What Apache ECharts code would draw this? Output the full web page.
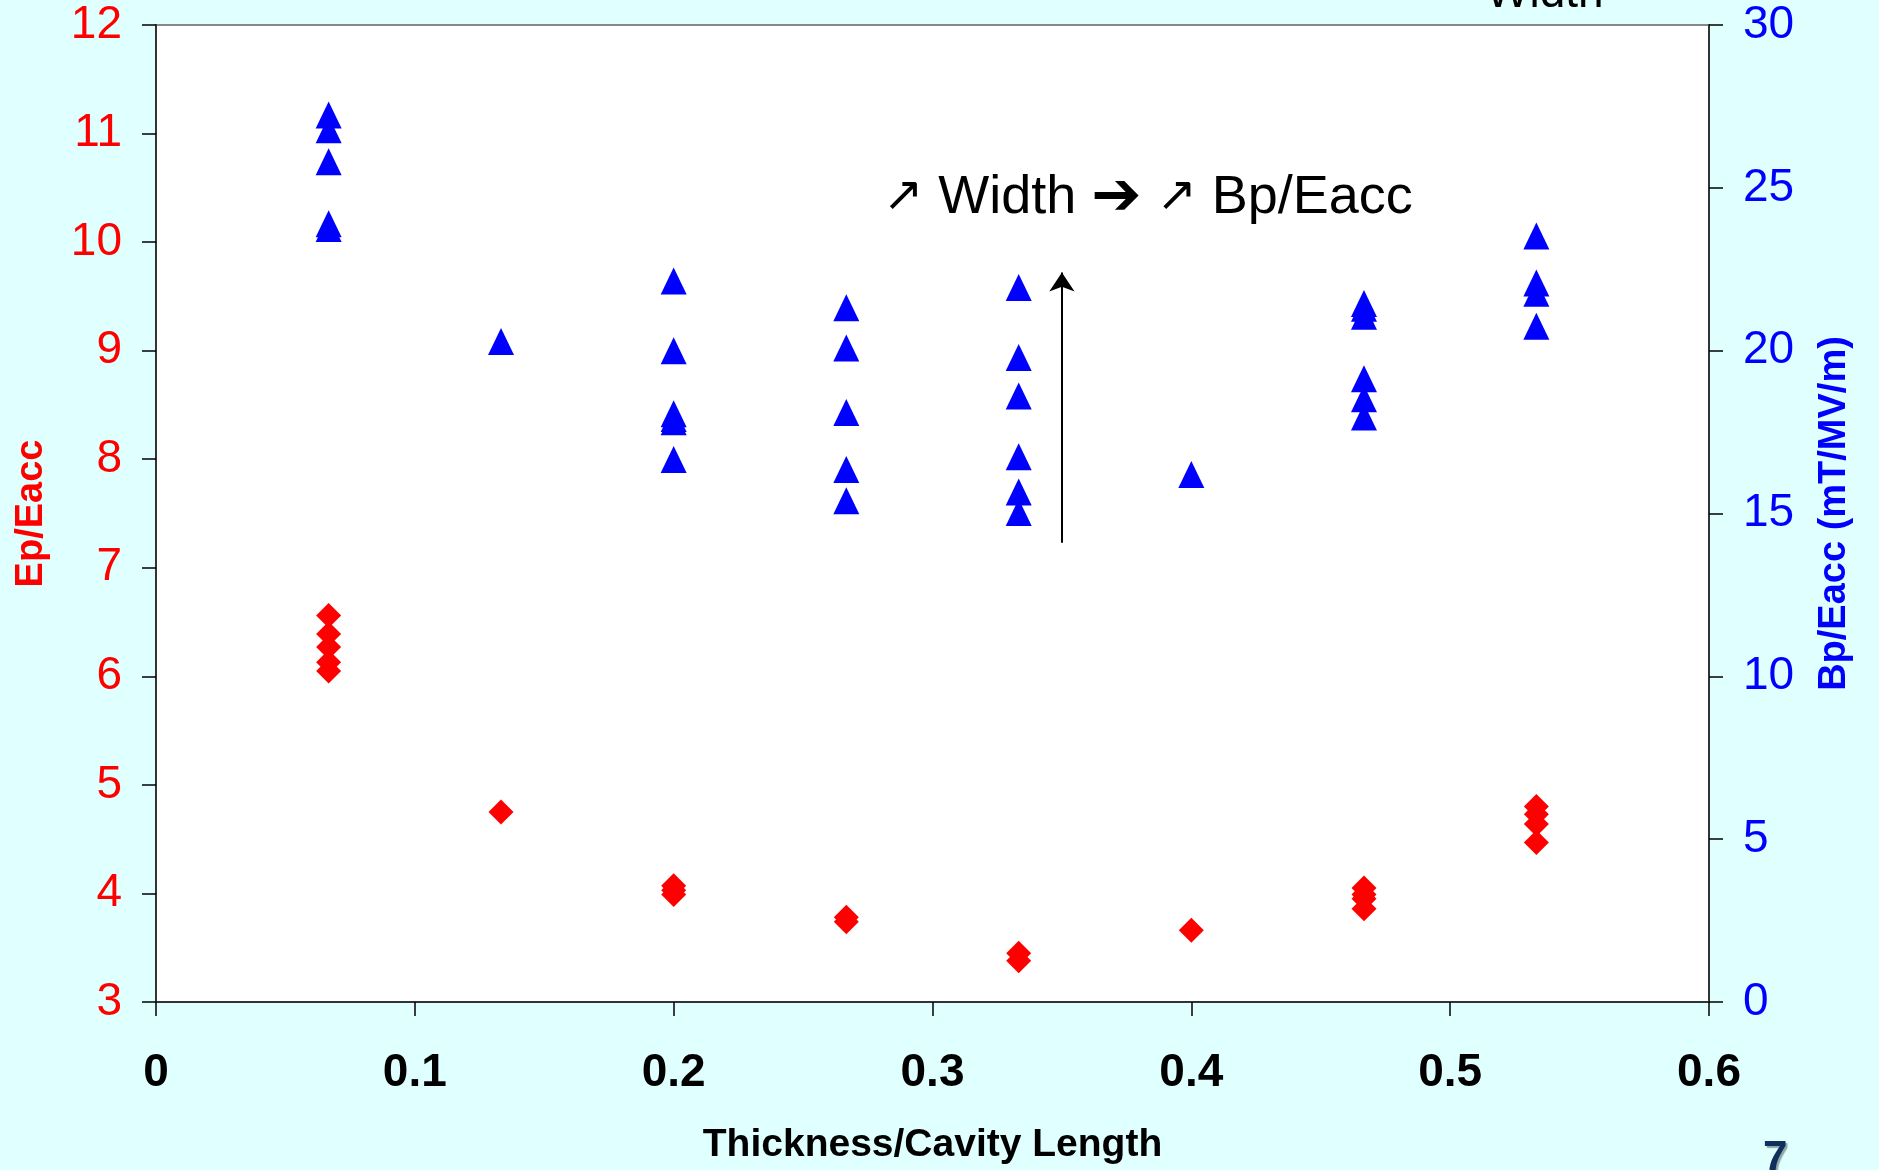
<!DOCTYPE html>
<html>
<head>
<meta charset="utf-8">
<script src="https://cdn.jsdelivr.net/npm/echarts@6/dist/echarts.min.js"></script>
<style>
html,body{margin:0;padding:0;background:#E0FFFF;}
#chart{width:1879px;height:1170px;}
</style>
</head>
<body>
<div id="chart"></div>
<script>
// x = Thickness/Cavity Length
var xTicks = [0, 0.1, 0.2, 0.3, 0.4, 0.5, 0.6];
var leftTicks = [3, 4, 5, 6, 7, 8, 9, 10, 11, 12];
var rightTicks = [0, 5, 10, 15, 20, 25, 30];

// Ep/Eacc (left axis, red diamonds)
var epX = [0.0667, 0.0667, 0.0667, 0.0667, 0.0667,
           0.1333,
           0.2, 0.2, 0.2,
           0.2667, 0.2667,
           0.3333, 0.3333,
           0.4,
           0.4667, 0.4667, 0.4667, 0.4667,
           0.5333, 0.5333, 0.5333, 0.5333];
var epY = [6.56, 6.39, 6.27, 6.13, 6.05,
           4.75,
           4.07, 4.03, 3.99,
           3.78, 3.74,
           3.45, 3.38,
           3.66,
           4.05, 3.99, 3.95, 3.86,
           4.80, 4.73, 4.64, 4.47];

// Bp/Eacc (right axis, blue triangles)
var bpX = [0.0667, 0.0667, 0.0667, 0.0667, 0.0667,
           0.1333,
           0.2, 0.2, 0.2, 0.2, 0.2, 0.2,
           0.2667, 0.2667, 0.2667, 0.2667, 0.2667,
           0.3333, 0.3333, 0.3333, 0.3333, 0.3333, 0.3333,
           0.4,
           0.4667, 0.4667, 0.4667, 0.4667, 0.4667, 0.4667,
           0.5333, 0.5333, 0.5333, 0.5333];
var bpY = [27.24, 26.78, 25.80, 23.90, 23.75,
           20.28,
           22.14, 20.00, 18.06, 17.92, 17.82, 16.66,
           21.32, 20.08, 18.10, 16.35, 15.39,
           21.94, 19.79, 18.61, 16.74, 15.66, 15.03,
           16.20,
           21.45, 21.30, 21.06, 19.14, 18.52, 17.96,
           23.52, 22.08, 21.76, 20.75];

// annotation arrow (x, from, to on right axis)
var arrowX = 0.35, arrowFrom = 14.1, arrowTo = 22.4;

var annotationText = '{a|\u2197} Width {b|\u2794} {a|\u2197} Bp/Eacc';
var topText = 'Width';
var pageNumber = '7';

var FONT = "'Liberation Sans', Arial, sans-serif";

function pairs(xs, ys) { return xs.map(function (x, i) { return [x, ys[i]]; }); }

var chart = echarts.init(document.getElementById('chart'));
chart.setOption({
  backgroundColor: '#E0FFFF',
  animation: false,
  grid: {
    left: 156, right: 170, top: 25, bottom: 168,
    show: true, backgroundColor: '#ffffff', borderColor: '#888888', borderWidth: 2
  },
  xAxis: {
    type: 'value', min: xTicks[0], max: xTicks[xTicks.length - 1], interval: 0.1,
    name: 'Thickness/Cavity Length', nameLocation: 'middle', nameGap: 124,
    nameTextStyle: { fontFamily: FONT, fontWeight: 'bold', fontSize: 39, color: '#000' },
    axisLine: { lineStyle: { color: '#333', width: 2 } },
    axisTick: { show: true, length: 14, lineStyle: { color: '#000', width: 1.5 } },
    axisLabel: { fontFamily: FONT, fontWeight: 'bold', fontSize: 46, color: '#000', margin: 48 },
    splitLine: { show: false }
  },
  yAxis: [{
    type: 'value', position: 'left', min: leftTicks[0], max: leftTicks[leftTicks.length - 1], interval: 1,
    name: 'Ep/Eacc', nameLocation: 'middle', nameGap: 105, nameRotate: 90,
    nameTextStyle: { fontFamily: FONT, fontWeight: 'bold', fontSize: 38, color: '#ff0000' },
    axisLine: { show: true, lineStyle: { color: '#333', width: 2 } },
    axisTick: { show: true, length: 14, lineStyle: { color: '#000', width: 1.5 } },
    axisLabel: { fontFamily: FONT, fontSize: 46, color: '#ff0000', margin: 34 },
    splitLine: { show: false }
  }, {
    type: 'value', position: 'right', min: rightTicks[0], max: rightTicks[rightTicks.length - 1], interval: 5,
    name: 'Bp/Eacc (mT/MV/m)', nameLocation: 'middle', nameGap: 107, nameRotate: 90,
    nameTextStyle: { fontFamily: FONT, fontWeight: 'bold', fontSize: 38, color: '#0000ff' },
    axisLine: { show: true, lineStyle: { color: '#333', width: 2 } },
    axisTick: { show: true, length: 14, lineStyle: { color: '#000', width: 1.5 } },
    axisLabel: { fontFamily: FONT, fontSize: 46, color: '#0000ff', margin: 34 },
    splitLine: { show: false }
  }],
  series: [{
    name: 'Ep/Eacc', type: 'scatter', xAxisIndex: 0, yAxisIndex: 0,
    symbol: 'diamond', symbolSize: [25, 25],
    itemStyle: { color: '#ff0000', opacity: 1 },
    data: pairs(epX, epY)
  }, {
    name: 'Bp/Eacc', type: 'scatter', xAxisIndex: 0, yAxisIndex: 1,
    symbol: 'triangle', symbolSize: [26, 27],
    itemStyle: { color: '#0000ff', opacity: 1 },
    data: pairs(bpX, bpY)
  }, {
    type: 'lines', coordinateSystem: 'cartesian2d', xAxisIndex: 0, yAxisIndex: 1,
    symbol: ['none', 'arrow'], symbolSize: 19,
    lineStyle: { color: '#000', width: 2, opacity: 1 },
    data: [{ coords: [[arrowX, arrowFrom], [arrowX, arrowTo]] }],
    silent: true
  }],
  graphic: [{
    type: 'text', left: 883, top: 192 - 24,
    style: {
      text: annotationText, fontFamily: FONT, fontSize: 54, fill: '#000',
      rich: {
        a: { fontFamily: "'DejaVu Sans', sans-serif", fontSize: 48, fill: '#000' },
        b: { fontFamily: "'DejaVu Sans', sans-serif", fontWeight: 'bold', fontSize: 60, fill: '#000' }
      }
    }
  }, {
    type: 'text', x: 1486, y: -6,
    style: { text: topText, fontFamily: FONT, fontSize: 46, fill: '#000', verticalAlign: 'middle' }
  }, {
    type: 'text', x: 1763, y: 1160,
    style: { text: pageNumber, fontFamily: FONT, fontWeight: 'bold', fontSize: 44, fill: '#0F2F5C',
             verticalAlign: 'middle', textShadowColor: 'rgba(0,0,0,0.35)', textShadowOffsetX: 2, textShadowOffsetY: 2, textShadowBlur: 1 }
  }]
});
</script>
</body>
</html>
